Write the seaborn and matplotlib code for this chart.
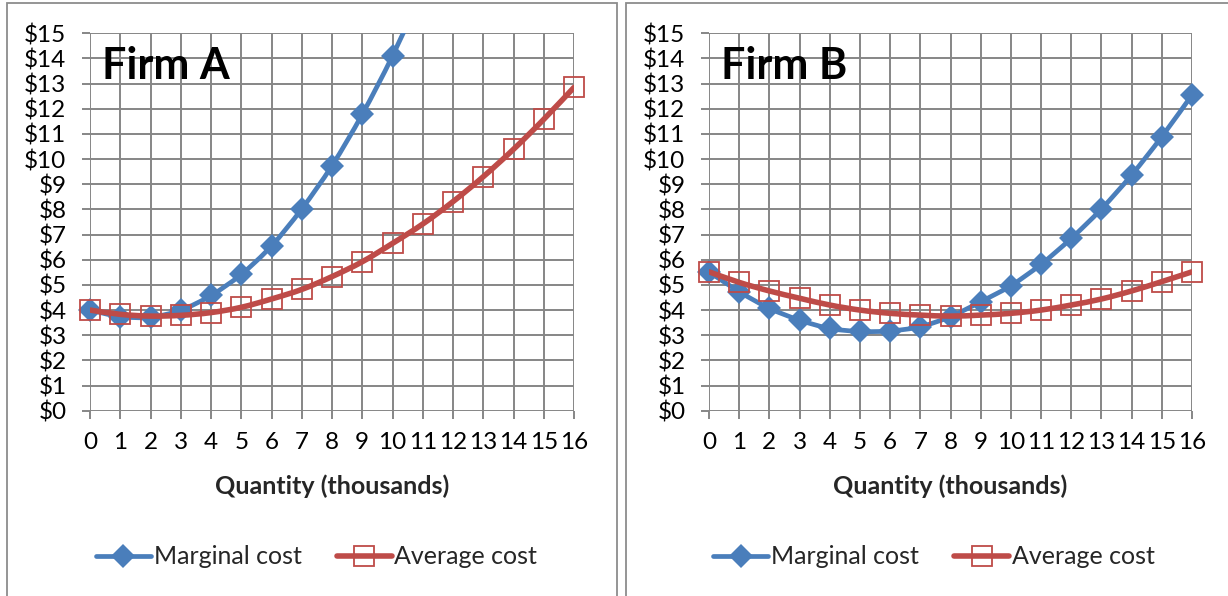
import numpy as np
import pandas as pd
import seaborn as sns
import matplotlib
matplotlib.use("Agg")
import matplotlib.pyplot as plt
from matplotlib.path import Path
from matplotlib.patches import PathPatch, Rectangle
from matplotlib.lines import Line2D

# Output quantity in thousands
quantity = list(range(17))

# Firm A cost curves ($ per unit)
firm_a_marginal = [4.0, 3.74, 3.72, 4.0, 4.58, 5.42, 6.55, 8.02, 9.74, 11.78, 14.1, 16.7]
firm_a_average = [4.0, 3.83, 3.76, 3.79, 3.9, 4.11, 4.44, 4.82, 5.33, 5.92, 6.65,
                  7.42, 8.31, 9.3, 10.39, 11.58, 12.85]

# Firm B cost curves ($ per unit)
firm_b_marginal = [5.52, 4.73, 4.07, 3.6, 3.27, 3.15, 3.17, 3.34, 3.74, 4.33, 4.97,
                   5.82, 6.85, 8.02, 9.37, 10.89, 12.55]
firm_b_average = [5.52, 5.1, 4.76, 4.47, 4.2, 4.0, 3.87, 3.8, 3.76, 3.8, 3.87,
                  4.0, 4.2, 4.44, 4.76, 5.13, 5.52]

y_ticks = list(range(16))
y_tick_labels = [f"${v}" for v in y_ticks]

BLUE = "#4A7EBB"
RED = "#BE4B48"
GRID = "#868686"
FONT = ["Lato", "DejaVu Sans"]

sns.set_theme(style="white")
plt.rcParams["font.family"] = FONT

W, H = 1228, 596
fig = plt.figure(figsize=(W / 100, H / 100), dpi=100)

MC_LW, AC_LW = 3.4, 4.0
MC_MS, AC_MS = 12, 14.5


def smooth_path(xs, ys):
    """Catmull-Rom curve through the points, expressed as cubic Bezier segments."""
    pts = np.column_stack([xs, ys]).astype(float)
    n = len(pts)
    verts = [pts[0]]
    codes = [Path.MOVETO]
    for i in range(n - 1):
        p0 = pts[i - 1] if i > 0 else pts[i]
        p1, p2 = pts[i], pts[i + 1]
        p3 = pts[i + 2] if i + 2 < n else pts[i + 1]
        c1 = p1 + (p2 - p0) / 6.0
        c2 = p2 - (p3 - p1) / 6.0
        verts += [c1, c2, p2]
        codes += [Path.CURVE4] * 3
    return Path(verts, codes)


def panel(px_left, px_right, title, mc, ac, legend_cx):
    top, bottom = 33.3, 410.7
    ax = fig.add_axes([px_left / W, 1 - bottom / H, (px_right - px_left) / W, (bottom - top) / H])
    ax.set_xlim(0, 16)
    ax.set_ylim(0, 15)
    ax.set_xticks(quantity)
    ax.set_xticklabels([str(q) for q in quantity])
    ax.set_yticks(y_ticks)
    ax.set_yticklabels(y_tick_labels)
    ax.grid(True, color=GRID, linewidth=1.4)
    ax.set_axisbelow(True)
    for s in ax.spines.values():
        s.set_visible(False)
    ax.tick_params(axis="both", which="major", length=6, width=1.4, color=GRID,
                   labelsize=17.5, labelcolor="black", direction="out",
                   bottom=True, left=True)

    # markers may overhang the plot edges a little, but far-off points stay hidden
    marker_clip = Rectangle((-0.05, -0.05), 1.1, 1.1, transform=ax.transAxes,
                            fill=False, visible=False)
    ax.add_patch(marker_clip)

    mc_x = quantity[:len(mc)]
    ax.add_patch(PathPatch(smooth_path(mc_x, mc), fill=False, edgecolor=BLUE,
                           lw=MC_LW, capstyle="round", joinstyle="round", zorder=3))
    df_mc = pd.DataFrame({"q": mc_x, "cost": mc})
    sns.lineplot(data=df_mc, x="q", y="cost", ax=ax, color=BLUE, linestyle="none",
                 marker="D", markersize=MC_MS, markeredgewidth=0, legend=False, zorder=4)

    ax.add_patch(PathPatch(smooth_path(quantity, ac), fill=False, edgecolor=RED,
                           lw=AC_LW, capstyle="round", joinstyle="round", zorder=5))
    df_ac = pd.DataFrame({"q": quantity, "cost": ac})
    sns.lineplot(data=df_ac, x="q", y="cost", ax=ax, color=RED, linestyle="none",
                 marker="s", markersize=AC_MS, markerfacecolor="none",
                 markeredgecolor=RED, markeredgewidth=1.3, legend=False, zorder=6)
    for ln in ax.lines:
        ln.set_clip_path(marker_clip)

    ax.set_xlabel("Quantity (thousands)", fontsize=18, fontweight="bold", labelpad=16)
    ax.set_ylabel("")
    ax.text(0.4, 13.7, title, fontsize=31, fontweight="bold", va="center", ha="left",
            color="black", zorder=7)

    ax.xaxis.set_tick_params(pad=9)
    ax.yaxis.set_tick_params(pad=11)

    handles = [
        Line2D([], [], color=BLUE, lw=MC_LW, marker="D", markersize=MC_MS, markeredgewidth=0),
        Line2D([], [], color=RED, lw=AC_LW, marker="s", markersize=AC_MS,
               markerfacecolor="none", markeredgecolor=RED, markeredgewidth=1.3),
    ]
    fig.legend(handles, ["Marginal cost", "Average cost"], loc="center",
               bbox_to_anchor=(legend_cx / W, 1 - 557 / H), ncol=2, frameon=False,
               fontsize=18, handlelength=2.2, handletextpad=0.12,
               columnspacing=1.4)
    return ax


# Panel frames
for x0, x1 in [(7, 617), (626, 1240)]:
    fig.patches.append(Rectangle((x0 / W, -0.05), (x1 - x0) / W, 1.05 - 3 / H,
                                 transform=fig.transFigure, fill=False,
                                 edgecolor="#8C8C8C", lw=1.3))

panel(90, 574, "Firm A", firm_a_marginal, firm_a_average, 316.5)
panel(709, 1192, "Firm B", firm_b_marginal, firm_b_average, 934)

fig.savefig("out.png", dpi=100, facecolor="white")
